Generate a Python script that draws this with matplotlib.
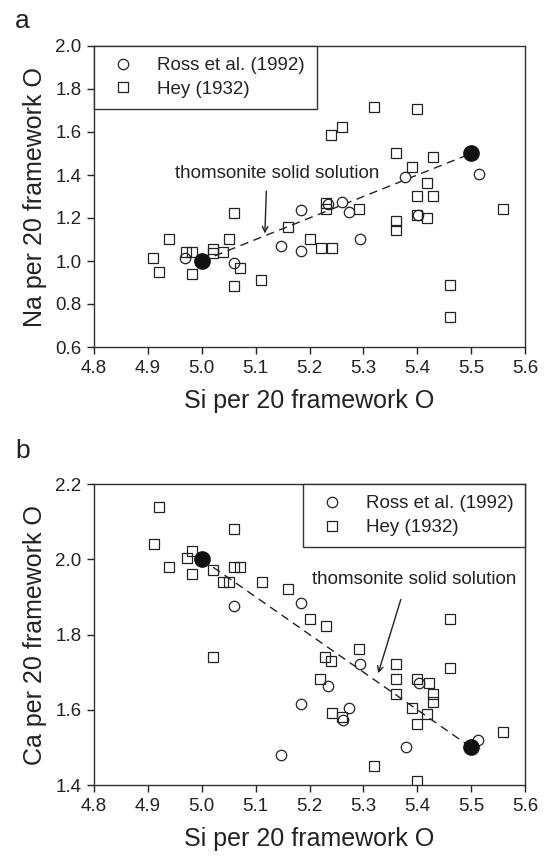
import numpy as np
import matplotlib
matplotlib.use("Agg")
import matplotlib.pyplot as plt

plt.rcParams['font.family'] = ['Liberation Sans', 'DejaVu Sans']

# panel a: Na vs Si
ross_si_a = [4.969, 5.059, 5.147, 5.184, 5.184, 5.235, 5.261, 5.274, 5.294, 5.377, 5.402, 5.515]
ross_na_a = [1.015, 0.989, 1.070, 1.237, 1.047, 1.265, 1.276, 1.229, 1.101, 1.392, 1.214, 1.405]
hey_si_a = [5.060, 4.940, 4.971, 4.981, 5.021, 5.021, 5.040, 5.051, 4.910, 4.921, 4.981, 5.071,
            5.060, 5.110, 5.161, 5.200, 5.320, 5.399, 5.260, 5.239, 5.361, 5.430, 5.391, 5.419,
            5.399, 5.430, 5.231, 5.231, 5.291, 5.399, 5.419, 5.360, 5.360, 5.560, 5.221, 5.241,
            5.461, 5.460]
hey_na_a = [1.222, 1.101, 1.043, 1.043, 1.056, 1.039, 1.043, 1.101, 1.012, 0.950, 0.940, 0.969,
            0.884, 0.912, 1.160, 1.101, 1.715, 1.705, 1.622, 1.585, 1.504, 1.485, 1.436, 1.361,
            1.304, 1.304, 1.268, 1.240, 1.240, 1.214, 1.202, 1.188, 1.144, 1.242, 1.059, 1.059,
            0.888, 0.740]
end_si_a = [5.0, 5.5]
end_na_a = [1.0, 1.5]

# panel b: Ca vs Si
ross_si_b = [5.059, 5.185, 5.184, 5.294, 5.235, 5.403, 5.274, 5.262, 5.148, 5.380, 5.512]
ross_ca_b = [1.877, 1.883, 1.614, 1.721, 1.663, 1.672, 1.604, 1.572, 1.480, 1.500, 1.520]
hey_si_b = [4.921, 5.060, 4.912, 4.981, 4.972, 4.940, 4.981, 5.020, 5.060, 5.071, 5.040, 5.051,
            5.111, 5.161, 5.020, 5.200, 5.231, 5.461, 5.291, 5.229, 5.239, 5.361, 5.461, 5.219,
            5.361, 5.399, 5.421, 5.430, 5.430, 5.361, 5.391, 5.419, 5.241, 5.260, 5.399, 5.560,
            5.320, 5.400]
hey_ca_b = [2.140, 2.080, 2.040, 2.022, 2.002, 1.980, 1.961, 1.971, 1.980, 1.980, 1.940, 1.940,
            1.940, 1.921, 1.739, 1.841, 1.823, 1.841, 1.761, 1.741, 1.730, 1.722, 1.712, 1.682,
            1.682, 1.682, 1.672, 1.642, 1.621, 1.641, 1.604, 1.590, 1.592, 1.581, 1.562, 1.540,
            1.450, 1.411]
end_si_b = [5.0, 5.5]
end_ca_b = [2.0, 1.5]

xticks = [4.8, 4.9, 5.0, 5.1, 5.2, 5.3, 5.4, 5.5, 5.6]

W, H = 550, 863
fig = plt.figure(figsize=(W / 100, H / 100), dpi=100)
ax_a = fig.add_axes([94 / W, 1 - 347 / H, 431 / W, 301 / H])
ax_b = fig.add_axes([94 / W, 1 - 785 / H, 431 / W, 301 / H])

ink = '#222222'


def style(ax, ylim, yticks, ylabel):
  ax.set_xlim(4.8, 5.6)
  ax.set_ylim(*ylim)
  ax.set_xticks(xticks)
  ax.set_xticklabels(['%.1f' % t for t in xticks])
  ax.set_yticks(yticks)
  ax.set_yticklabels(['%.1f' % t for t in yticks])
  ax.tick_params(direction='out', length=5, width=1, labelsize=13.5, colors=ink, pad=4)
  for s in ax.spines.values():
    s.set_linewidth(1)
    s.set_color('#333333')
  ax.set_xlabel('Si per 20 framework O', fontsize=18, color=ink, labelpad=9)
  ax.set_ylabel(ylabel, fontsize=18, color=ink, labelpad=6)


def points(ax, rx, ry, hx, hy, ex, ey):
  ax.plot(ex, ey, ls=(0, (6, 4)), color='#222222', lw=1, zorder=2)
  ax.plot(rx, ry, 'o', ms=7.5, mfc='white', mec='#222222', mew=0.9, zorder=3,
          label='Ross et al. (1992)')
  ax.plot(hx, hy, 's', ms=7, mfc='none', mec='#222222', mew=0.9, zorder=3,
          label='Hey (1932)')
  ax.plot(ex, ey, 'o', ms=11, color='#111111', zorder=4)


def box_legend(ax, x0, w, h):
  leg = ax.legend(loc='upper left', bbox_to_anchor=(x0, 1 - h, w, h),
                  mode='expand', fontsize=13.5, frameon=True, fancybox=False,
                  borderaxespad=0, handletextpad=0.86, labelspacing=0.35,
                  borderpad=0.6, handlelength=1.9, framealpha=1)
  leg.get_frame().set_edgecolor('#333333')
  leg.get_frame().set_linewidth(1)
  for t in leg.get_texts():
    t.set_color(ink)
  return leg


# panel a
points(ax_a, ross_si_a, ross_na_a, hey_si_a, hey_na_a, end_si_a, end_na_a)
style(ax_a, (0.6, 2.0), [0.6, 0.8, 1.0, 1.2, 1.4, 1.6, 1.8, 2.0], 'Na per 20 framework O')
box_legend(ax_a, 0, 223 / 431, 61 / 301)
ax_a.annotate('', xy=(5.117, 1.115), xytext=(5.120, 1.338),
              arrowprops=dict(arrowstyle='->', color='#222222', lw=1))
ax_a.text(5.14, 1.408, 'thomsonite solid solution', fontsize=13.5, color=ink,
          ha='center', va='center')
fig.text(15 / W, 1 - 28 / H, 'a', fontsize=19, color=ink)

# panel b
points(ax_b, ross_si_b, ross_ca_b, hey_si_b, hey_ca_b, end_si_b, end_ca_b)
style(ax_b, (1.4, 2.2), [1.4, 1.6, 1.8, 2.0, 2.2], 'Ca per 20 framework O')
box_legend(ax_b, 1 - 222 / 431, 222 / 431, 63 / 301)
ax_b.annotate('', xy=(5.326, 1.690), xytext=(5.371, 1.900),
              arrowprops=dict(arrowstyle='->', color='#222222', lw=1))
ax_b.text(5.395, 1.945, 'thomsonite solid solution', fontsize=13.5, color=ink,
          ha='center', va='center')
fig.text(15 / W, 1 - 458 / H, 'b', fontsize=19, color=ink)

fig.savefig('out.png', dpi=100)
